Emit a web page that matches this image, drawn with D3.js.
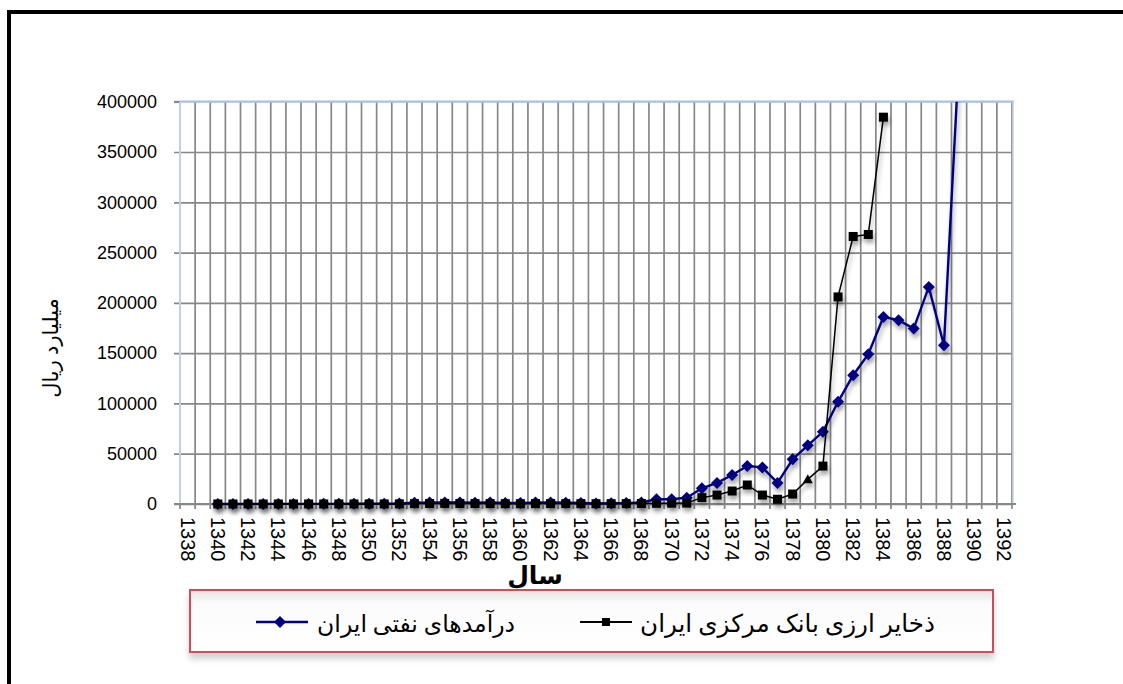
<!DOCTYPE html>
<html>
<head>
<meta charset="utf-8">
<script src="https://cdn.jsdelivr.net/npm/d3@7"></script>
<style>
  body { margin: 0; background: #fff; }
  svg { display: block; }
</style>
</head>
<body>
<svg id="chart" width="1123" height="684"></svg>
<script>
// categories on the x axis (every year, label every second one)
const categoryYears = [1338,1339,1340,1341,1342,1343,1344,1345,1346,1347,1348,1349,1350,1351,1352,1353,1354,1355,1356,1357,1358,1359,1360,1361,1362,1363,1364,1365,1366,1367,1368,1369,1370,1371,1372,1373,1374,1375,1376,1377,1378,1379,1380,1381,1382,1383,1384,1385,1386,1387,1388,1389,1390,1391,1392];
const labelYears = [1338,1340,1342,1344,1346,1348,1350,1352,1354,1356,1358,1360,1362,1364,1366,1368,1370,1372,1374,1376,1378,1380,1382,1384,1386,1388,1390,1392];
const yTicks = [0,50000,100000,150000,200000,250000,300000,350000,400000];

// oil revenue (billion rials)
const oilYears = [1340,1341,1342,1343,1344,1345,1346,1347,1348,1349,1350,1351,1352,1353,1354,1355,1356,1357,1358,1359,1360,1361,1362,1363,1364,1365,1366,1367,1368,1369,1370,1371,1372,1373,1374,1375,1376,1377,1378,1379,1380,1381,1382,1383,1384,1385,1386,1387,1388,1389];
const oilRevenue = [50,60,70,80,90,100,120,140,160,180,250,350,500,1300,1400,1600,1500,1300,1500,1000,1100,1400,1500,1200,1000,500,800,900,1600,4700,4700,6300,15600,21000,28800,37700,36400,21000,44400,58300,71800,101600,128000,149000,186000,182700,174400,215800,157900,445000];

// central bank foreign reserves (billion rials)
const reserveYears = [1340,1341,1342,1343,1344,1345,1346,1347,1348,1349,1350,1351,1352,1353,1354,1355,1356,1357,1358,1359,1360,1361,1362,1363,1364,1365,1366,1367,1368,1369,1370,1371,1372,1373,1374,1375,1376,1377,1378,1379,1380,1381,1382,1383,1384];
const reserves = [20,20,25,25,30,30,35,40,45,50,60,80,120,400,500,600,550,500,450,350,300,400,450,400,350,300,350,400,500,700,800,900,6300,8900,12900,18900,8900,4700,9900,24500,37700,205900,266000,268000,384600];
const reserveTriangleYear = 1379;

const oilName = "درآمدهای نفتی ایران";
const reserveName = "ذخایر ارزی بانک مرکزی ایران";
const xTitle = "سال";
const yTitle = "میلیارد ریال";

const latinFont = "'Liberation Sans', Arial, sans-serif";
const persianFont = "'Liberation Serif', 'DejaVu Serif', 'DejaVu Sans', serif";

const svg = d3.select("#chart");
const defs = svg.append("defs");

const shadow = defs.append("filter").attr("id", "shadow")
  .attr("x", "-10%").attr("y", "-10%").attr("width", "130%").attr("height", "140%");
shadow.append("feDropShadow")
  .attr("dx", 1.5).attr("dy", 4).attr("stdDeviation", 2.2)
  .attr("flood-color", "#000").attr("flood-opacity", 0.35);

const boxShadow = defs.append("filter").attr("id", "boxShadow")
  .attr("x", "-5%").attr("y", "-20%").attr("width", "110%").attr("height", "160%");
boxShadow.append("feDropShadow")
  .attr("dx", 0).attr("dy", 6).attr("stdDeviation", 3)
  .attr("flood-color", "#000").attr("flood-opacity", 0.18);

const boxGrad = defs.append("linearGradient").attr("id", "boxGrad")
  .attr("x1", 0).attr("y1", 0).attr("x2", 0).attr("y2", 1);
boxGrad.append("stop").attr("offset", "0%").attr("stop-color", "#e4e4e4");
boxGrad.append("stop").attr("offset", "22%").attr("stop-color", "#fbfbfb");
boxGrad.append("stop").attr("offset", "100%").attr("stop-color", "#ffffff");

const plot = { left: 180, right: 1012, top: 101.7, bottom: 504 };

defs.append("clipPath").attr("id", "plotClip")
  .append("rect")
  .attr("x", plot.left - 10).attr("y", plot.top)
  .attr("width", plot.right - plot.left + 20).attr("height", plot.bottom - plot.top + 20);

const x = d3.scaleBand().domain(categoryYears).range([plot.left, plot.right]);
const cx = yr => x(yr) + x.bandwidth() / 2;
const y = d3.scaleLinear().domain([0, 400000]).range([plot.bottom, plot.top]);

// outer frame
svg.append("line").attr("x1", 7).attr("x2", 1123).attr("y1", 12).attr("y2", 12)
  .attr("stroke", "#000").attr("stroke-width", 4);
svg.append("line").attr("x1", 9).attr("x2", 9).attr("y1", 10).attr("y2", 684)
  .attr("stroke", "#000").attr("stroke-width", 4);

// vertical grid (category boundaries) with small ticks under the axis
const bounds = categoryYears.map(d => x(d)).concat([plot.right]);
svg.append("g").selectAll("line").data(bounds).enter().append("line")
  .attr("x1", d => d).attr("x2", d => d)
  .attr("y1", plot.top).attr("y2", plot.bottom + 5)
  .attr("stroke", "#878787").attr("stroke-width", 1.7);

// y axis with horizontal grid
const yAxis = svg.append("g")
  .attr("transform", `translate(${plot.left},0)`)
  .call(d3.axisLeft(y).tickValues(yTicks).tickSize(6).tickPadding(17).tickFormat(d3.format("d")));
yAxis.select(".domain").remove();
yAxis.selectAll(".tick line").attr("stroke", "#878787").attr("stroke-width", 1.7)
  .attr("x2", -6).attr("x1", d => d === 400000 ? 0 : plot.right - plot.left);
yAxis.selectAll(".tick text").attr("font-family", latinFont).attr("font-size", 18).attr("fill", "#000");
yAxis.append("line").attr("x1", -6).attr("x2", 0).attr("y1", y(400000)).attr("y2", y(400000))
  .attr("stroke", "#878787").attr("stroke-width", 1.7);

// plot border (light blue)
svg.append("line").attr("x1", plot.left).attr("x2", plot.right + 2)
  .attr("y1", plot.top).attr("y2", plot.top)
  .attr("stroke", "#a9c0e2").attr("stroke-width", 2.2);
svg.append("line").attr("x1", plot.left).attr("x2", plot.left)
  .attr("y1", plot.top).attr("y2", plot.bottom)
  .attr("stroke", "#c3cfe2").attr("stroke-width", 2);
svg.append("line").attr("x1", plot.right + 1).attr("x2", plot.right + 1)
  .attr("y1", plot.top).attr("y2", plot.bottom)
  .attr("stroke", "#c8d2e4").attr("stroke-width", 1.5);

// x axis line
svg.append("line").attr("x1", plot.left - 6).attr("x2", plot.right + 4)
  .attr("y1", plot.bottom).attr("y2", plot.bottom)
  .attr("stroke", "#878787").attr("stroke-width", 1.8);

// x tick labels rotated
const xAxis = svg.append("g")
  .attr("transform", `translate(0,${plot.bottom})`)
  .call(d3.axisBottom(x).tickValues(labelYears).tickSize(0).tickPadding(0));
xAxis.select(".domain").remove();
xAxis.selectAll(".tick text")
  .attr("font-family", latinFont).attr("font-size", 20).attr("fill", "#000")
  .attr("transform", "rotate(90)")
  .attr("text-anchor", "start")
  .attr("x", 13).attr("y", 0).attr("dy", "0.35em");

// series
const oilData = oilYears.map((yr, i) => ({ year: yr, value: oilRevenue[i] }));
const resData = reserveYears.map((yr, i) => ({ year: yr, value: reserves[i] }));
const line = d3.line().x(d => cx(d.year)).y(d => y(d.value));

const diamond = "M0,-6L6,0L0,6L-6,0Z";

const oilG = svg.append("g").attr("clip-path", "url(#plotClip)").attr("filter", "url(#shadow)");
oilG.append("path").datum(oilData).attr("d", line)
  .attr("fill", "none").attr("stroke", "#000080").attr("stroke-width", 2.4);
oilG.selectAll("path.mk").data(oilData.filter(d => d.value <= 400000)).enter().append("path")
  .attr("class", "mk")
  .attr("transform", d => `translate(${cx(d.year)},${y(d.value)})`)
  .attr("d", diamond).attr("fill", "#000080");

const resG = svg.append("g").attr("clip-path", "url(#plotClip)").attr("filter", "url(#shadow)");
resG.append("path").datum(resData).attr("d", line)
  .attr("fill", "none").attr("stroke", "#000").attr("stroke-width", 1.5);
resG.selectAll("rect").data(resData.filter(d => d.year !== reserveTriangleYear)).enter().append("rect")
  .attr("x", d => cx(d.year) - 4.5).attr("y", d => y(d.value) - 4.5)
  .attr("width", 9).attr("height", 9).attr("fill", "#000");
resG.selectAll("path.tri").data(resData.filter(d => d.year === reserveTriangleYear)).enter().append("path")
  .attr("class", "tri")
  .attr("transform", d => `translate(${cx(d.year)},${y(d.value)})`)
  .attr("d", "M0,-5L5,4L-5,4Z").attr("fill", "#000");

// axis titles
svg.append("text").text(xTitle)
  .attr("x", 535).attr("y", 584).attr("text-anchor", "middle")
  .attr("font-family", persianFont).attr("font-weight", "bold").attr("font-size", 25).attr("fill", "#000");

svg.append("text").text(yTitle)
  .attr("transform", "translate(58,348) rotate(-90)")
  .attr("text-anchor", "middle")
  .attr("font-family", persianFont).attr("font-size", 21).attr("fill", "#000");

// legend
const legend = svg.append("g");
legend.append("rect")
  .attr("x", 190).attr("y", 590).attr("width", 803).attr("height", 62)
  .attr("fill", "url(#boxGrad)").attr("stroke", "#c9505a").attr("stroke-width", 2)
  .attr("filter", "url(#boxShadow)");

function fitText(sel, width, base) {
  const len = sel.node().getComputedTextLength();
  if (len > 0) sel.attr("font-size", base * width / len);
}

// reserves entry
legend.append("line").attr("x1", 580).attr("x2", 632).attr("y1", 622).attr("y2", 622)
  .attr("stroke", "#000").attr("stroke-width", 2);
legend.append("rect").attr("x", 602).attr("y", 618).attr("width", 8).attr("height", 8).attr("fill", "#000");
const t1 = legend.append("text").text(reserveName)
  .attr("x", 935).attr("y", 632).attr("text-anchor", "end")
  .attr("font-family", persianFont).attr("font-size", 22).attr("fill", "#000");
fitText(t1, 295, 22);

// oil entry
legend.append("line").attr("x1", 256).attr("x2", 308).attr("y1", 622).attr("y2", 622)
  .attr("stroke", "#000080").attr("stroke-width", 2.4);
legend.append("path").attr("transform", "translate(280,622)").attr("d", diamond).attr("fill", "#000080");
const t2 = legend.append("text").text(oilName)
  .attr("x", 515).attr("y", 632).attr("text-anchor", "end")
  .attr("font-family", persianFont).attr("font-size", 22).attr("fill", "#000");
fitText(t2, 198, 22);
</script>
</body>
</html>
